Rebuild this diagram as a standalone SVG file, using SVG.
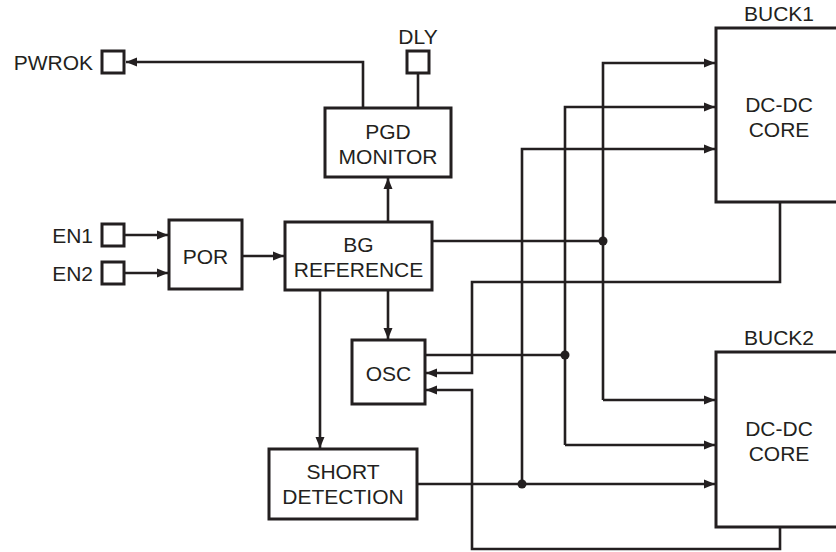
<svg xmlns="http://www.w3.org/2000/svg" width="836" height="552" viewBox="0 0 836 552">
<style>
.box{fill:#fff;stroke:#231f20;stroke-width:3}
.pin{fill:#fff;stroke:#231f20;stroke-width:3}
.w{fill:none;stroke:#231f20;stroke-width:2.6}
.t{font-family:"Liberation Sans",Arial,sans-serif;font-size:21px;fill:#231f20}
.m{text-anchor:middle}
.e{text-anchor:end}
.dot{fill:#231f20}
</style>
<defs>
<marker id="ah" markerUnits="userSpaceOnUse" markerWidth="12" markerHeight="10" refX="11" refY="5" orient="auto">
<path d="M0,0.5 L11,5 L0,9.5 z" fill="#231f20"/>
</marker>
</defs>
<rect width="836" height="552" fill="#fff"/>
<g id="connectors">
<path class="w" d="M124,235 H168" marker-end="url(#ah)"/>
<path class="w" d="M124,273 H168" marker-end="url(#ah)"/>
<path class="w" d="M242,256 H284" marker-end="url(#ah)"/>
<path class="w" d="M388,222 V178" marker-end="url(#ah)"/>
<path class="w" d="M363,108 V62 H126" marker-end="url(#ah)"/>
<path class="w" d="M418,73 V108"/>
<path class="w" d="M388,290 V339" marker-end="url(#ah)"/>
<path class="w" d="M320,290 V448" marker-end="url(#ah)"/>
<path class="w" d="M432,241 H603"/>
<path class="w" d="M603,400 V63 H715" marker-end="url(#ah)"/>
<path class="w" d="M603,400 H715" marker-end="url(#ah)"/>
<path class="w" d="M425,355 H565"/>
<path class="w" d="M565,445 V107 H715" marker-end="url(#ah)"/>
<path class="w" d="M565,445 H715" marker-end="url(#ah)"/>
<path class="w" d="M417,484 H715" marker-end="url(#ah)"/>
<path class="w" d="M522,484 V149 H715" marker-end="url(#ah)"/>
<path class="w" d="M780,202 V282 H472 V373 H426" marker-end="url(#ah)"/>
<path class="w" d="M780,527 V549 H472 V390 H426" marker-end="url(#ah)"/>
<circle class="dot" cx="603" cy="241" r="4.5"/>
<circle class="dot" cx="565" cy="355" r="4.5"/>
<circle class="dot" cx="522" cy="484" r="4.5"/>
</g>
<g id="pwrok">
<rect class="pin" x="102" y="51" width="22" height="22"/>
<text class="t e" x="93" y="70">PWROK</text>
</g>
<g id="dly">
<rect class="pin" x="407" y="51" width="22" height="22"/>
<text class="t m" x="418" y="44">DLY</text>
</g>
<g id="en1">
<rect class="pin" x="102" y="224" width="22" height="22"/>
<text class="t e" x="93" y="243">EN1</text>
</g>
<g id="en2">
<rect class="pin" x="102" y="262" width="22" height="22"/>
<text class="t e" x="93" y="281">EN2</text>
</g>
<g id="por">
<rect class="box" x="169" y="220" width="73" height="69"/>
<text class="t m" x="205.5" y="264">POR</text>
</g>
<g id="bg">
<rect class="box" x="285" y="222" width="147" height="68"/>
<text class="t m" x="358.5" y="252">BG</text>
<text class="t m" x="358.5" y="277">REFERENCE</text>
</g>
<g id="pgd">
<rect class="box" x="325" y="108" width="126" height="69"/>
<text class="t m" x="388" y="139">PGD</text>
<text class="t m" x="388" y="164">MONITOR</text>
</g>
<g id="osc">
<rect class="box" x="352" y="340" width="73" height="64"/>
<text class="t m" x="388.5" y="381">OSC</text>
</g>
<g id="short">
<rect class="box" x="269" y="449" width="148" height="70"/>
<text class="t m" x="343" y="479">SHORT</text>
<text class="t m" x="343" y="504">DETECTION</text>
</g>
<g id="buck1">
<path class="box" d="M840,28 H716 V202 H840"/>
<text class="t m" x="779" y="21">BUCK1</text>
<text class="t m" x="779" y="112">DC-DC</text>
<text class="t m" x="779" y="137">CORE</text>
</g>
<g id="buck2">
<path class="box" d="M840,352 H716 V527 H840"/>
<text class="t m" x="779" y="345">BUCK2</text>
<text class="t m" x="779" y="436">DC-DC</text>
<text class="t m" x="779" y="461">CORE</text>
</g>
</svg>
